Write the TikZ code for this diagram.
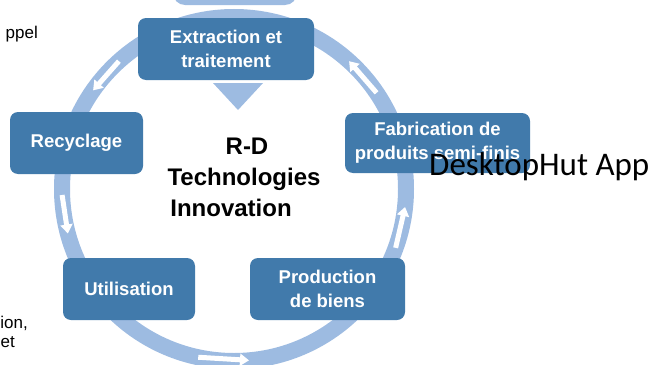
\documentclass[tikz,border=0pt]{standalone}
\usepackage{fontspec}
\setmainfont{Liberation Sans}
\newfontfamily\appfont{Carlito}
\usetikzlibrary{arrows.meta}
\definecolor{boxblue}{RGB}{65,122,171}
\definecolor{ringblue}{RGB}{157,187,225}

\begin{document}
\begin{tikzpicture}[x=1pt,y=1pt,>={Triangle[length=9pt,width=12pt]}]
\tikzstyle{stage}=[fill=boxblue,rounded corners=8pt,text=white,font=\bfseries\fontsize{18.5}{24}\selectfont,align=center,minimum height=62pt,inner sep=0pt]
\tikzstyle{flow}=[->,draw=white,line width=5pt]
\tikzstyle{title}=[anchor=base,inner sep=0pt,font=\bfseries\fontsize{24}{30}\selectfont]
\tikzstyle{side}=[anchor=base east,inner sep=0pt,font=\fontsize{17}{20}\selectfont]
\useasboundingbox (0,0) rectangle (653,-364);
\clip (0,0) rectangle (653,-364);
% ring and flow arrows
\draw[ringblue,line width=16pt] (234,-189) circle (172pt);
\begin{scope}[shift={(234,-189)}]
\draw[flow] (132:172pt) -- (145:172pt);
\draw[flow] (182:172pt) -- (195:172pt);
\draw[flow] (258:172pt) -- (275:172pt);
\draw[flow] (340:172pt) -- (354:172pt);
\draw[flow] (34:172pt) -- (48:172pt);
\end{scope}
\fill[ringblue,rounded corners=12pt] (173,20) rectangle (297,-5);
\fill[ringblue] (213,-83) -- (263,-83) -- (238,-110) -- cycle;
% stages
\node[stage,minimum width=176pt] (E) at (226,-49) {Extraction et\\traitement};
\node[stage,minimum width=133pt] (R) at (76.5,-143) {Recyclage};
\node[stage,minimum width=185pt,minimum height=60pt] (F) at (437.5,-143) {Fabrication de\\produits semi-finis};
\node[stage,minimum width=132pt] (U) at (129,-289) {Utilisation};
\node[stage,minimum width=155pt] (P) at (327.5,-289) {Production\\de biens};
% centre
\node[title] (rd) at (247,-154) {R-D};
\node[title] (tech) at (244,-185) {Technologies};
\node[title] (innov) at (231,-216) {Innovation};
% cut text on the left
\node[side] (t1) at (38,-38) {ppel};
\node[side] (t2) at (28,-328) {ion,};
\node[side] (t3) at (15,-347) {et};
\node[anchor=base west,inner sep=0pt,font=\appfont\fontsize{33}{33}\selectfont] (app) at (429,-175) {DesktopHut App};
\end{tikzpicture}
\end{document}
